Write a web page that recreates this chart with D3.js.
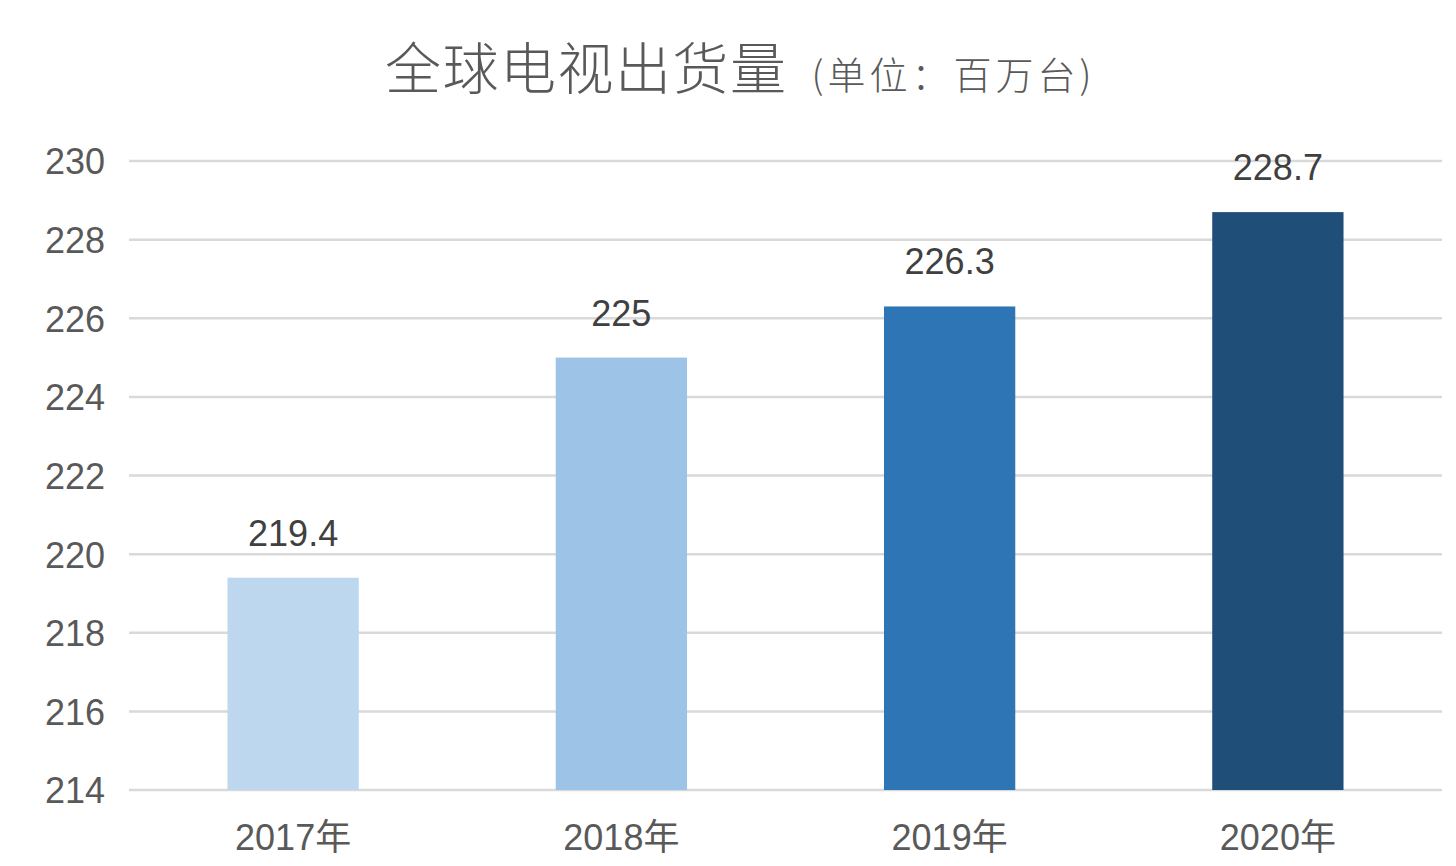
<!DOCTYPE html>
<html><head><meta charset="utf-8">
<script src="https://cdn.jsdelivr.net/npm/d3@7"></script>
<style>body{margin:0;background:#fff;}svg{display:block;}</style>
</head><body>
<svg id="chart" width="1456" height="866"></svg>
<script>
const categories = ["2017年", "2018年", "2019年", "2020年"];
const values = [219.4, 225, 226.3, 228.7];
const valueLabels = ["219.4", "225", "226.3", "228.7"];
const yTicks = [214, 216, 218, 220, 222, 224, 226, 228, 230];
const barColors = ["#BDD7EE", "#9DC3E6", "#2E75B6", "#1F4E79"];
const titleMain = "全球电视出货量";
const titleSub = "(单位：百万台)";

(function () {
const svg = d3.select("#chart");
const mL = 129, mR = 1442, mT = 161, mB = 790;
const x = d3.scaleBand().domain(categories).range([mL, mR]).paddingInner(0.6).paddingOuter(0.3);
const y = d3.scaleLinear().domain([214, 230]).range([mB, mT]);
const textColor = "#595959";
const numFont = "'Liberation Sans', Arial, sans-serif";

// gridlines
svg.append("g").selectAll("line").data(yTicks).join("line")
  .attr("x1", mL).attr("x2", mR)
  .attr("y1", d => y(d)).attr("y2", d => y(d))
  .attr("stroke", "#d9d9d9").attr("stroke-width", 2.5);

// y axis labels
const yAxis = d3.axisLeft(y).tickValues(yTicks).tickSize(0).tickPadding(0);
const yg = svg.append("g").attr("transform", `translate(105,0)`).call(yAxis);
yg.select(".domain").remove();
yg.selectAll("text").attr("font-family", numFont).attr("font-size", 36).attr("fill", textColor).attr("dy", "0.36em");

// bars
svg.append("g").selectAll("rect").data(values).join("rect")
  .attr("x", (d, i) => x(categories[i]))
  .attr("width", x.bandwidth())
  .attr("y", d => y(d))
  .attr("height", d => y(214) - y(d))
  .attr("fill", (d, i) => barColors[i]);

// value labels
svg.append("g").selectAll("text").data(values).join("text")
  .attr("x", (d, i) => x(categories[i]) + x.bandwidth() / 2)
  .attr("y", d => y(d) - 32)
  .attr("text-anchor", "middle")
  .attr("font-family", numFont).attr("font-size", 36).attr("fill", "#404040")
  .text((d, i) => valueLabels[i]);

// x axis labels
const xAxis = d3.axisBottom(x).tickSize(0).tickPadding(0);
const xg = svg.append("g").attr("transform", `translate(0,${mB})`).call(xAxis);
xg.select(".domain").remove();
xg.selectAll("text").attr("font-family", "'Liberation Sans', 'Noto Sans CJK SC', sans-serif")
  .attr("font-size", 36).attr("fill", textColor).attr("dy", 0).attr("y", 60);

// title
const t = svg.append("text").attr("x", 385).attr("y", 89).attr("fill", "#595959")
  .attr("font-family", "'Noto Sans CJK SC', sans-serif").attr("font-weight", 300);
t.append("tspan").attr("font-size", 56).attr("letter-spacing", 1.5).text(titleMain);
t.append("tspan").attr("font-size", 38).attr("dx", 24).attr("letter-spacing", 4).text(titleSub);
})();
</script>
</body></html>
